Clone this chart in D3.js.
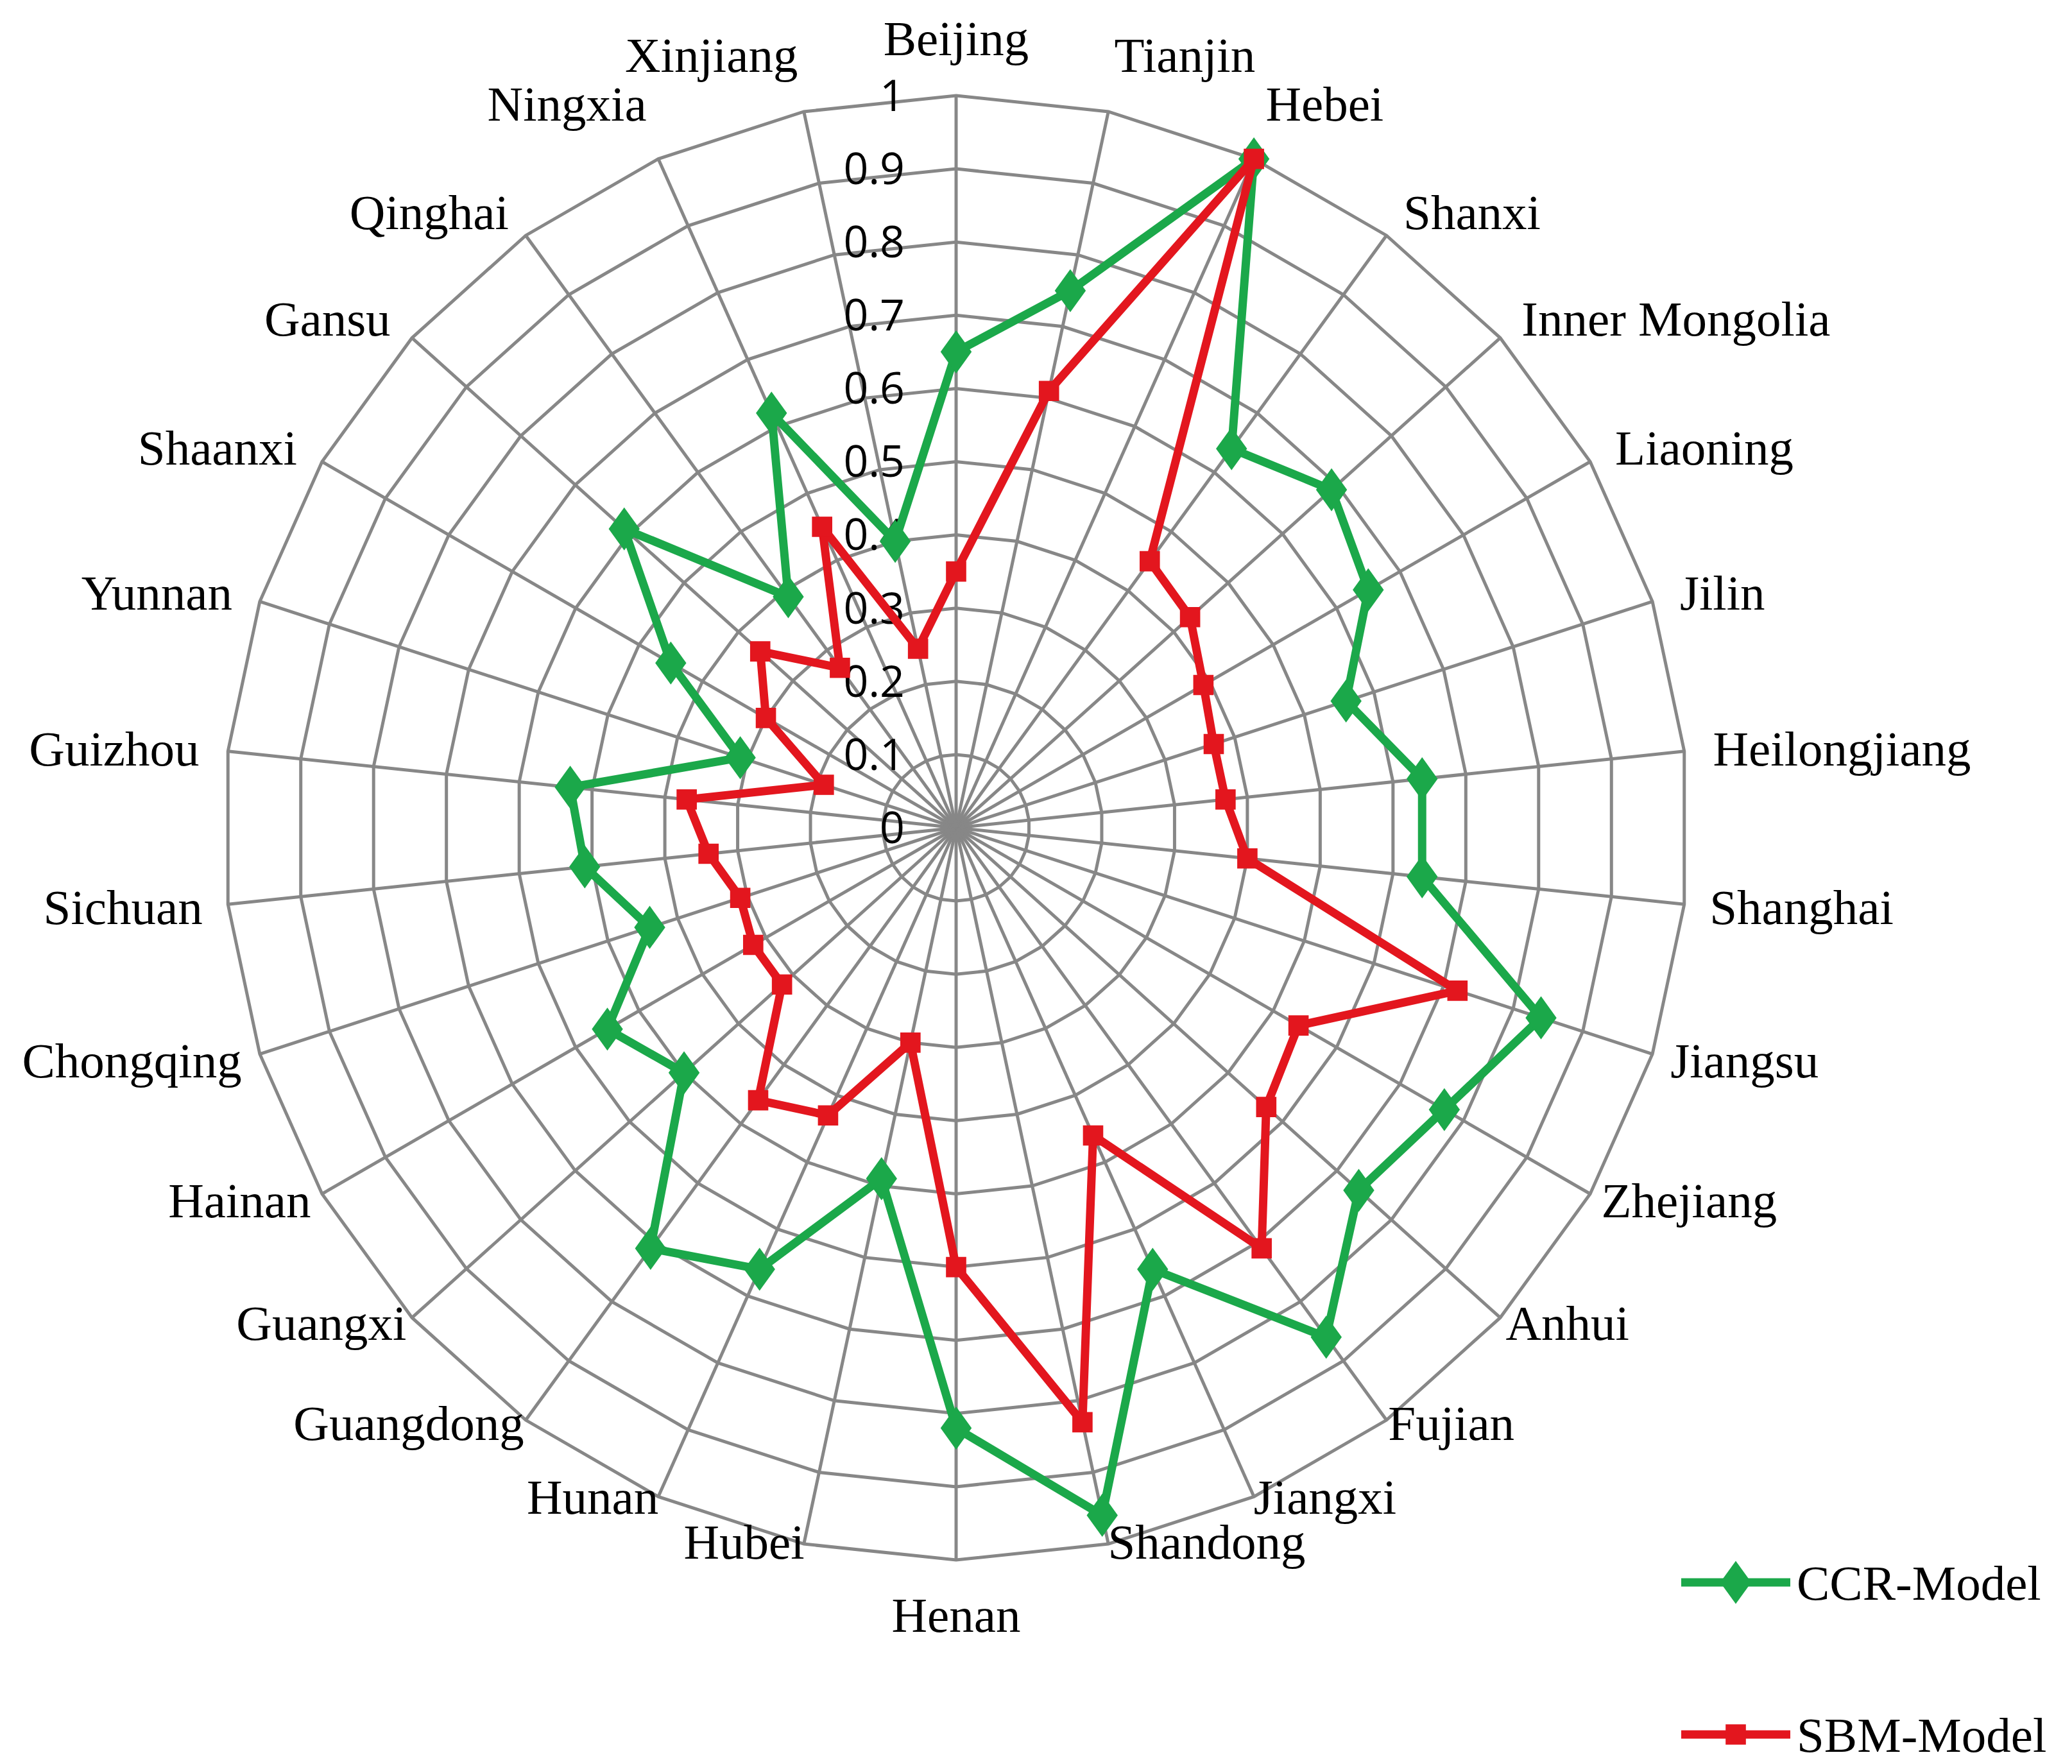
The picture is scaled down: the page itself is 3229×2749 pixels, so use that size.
<!DOCTYPE html>
<html><head><meta charset="utf-8">
<script src="https://cdn.jsdelivr.net/npm/d3@7"></script>
<style>body{margin:0;background:#fff}</style>
</head><body>
<svg id="c" width="3229" height="2749"></svg>
<script>
const categories=["Beijing","Tianjin","Hebei","Shanxi","Inner Mongolia","Liaoning","Jilin","Heilongjiang","Shanghai","Jiangsu","Zhejiang","Anhui","Fujian","Jiangxi","Shandong","Henan","Hubei","Hunan","Guangdong","Guangxi","Hainan","Chongqing","Sichuan","Guizhou","Yunnan","Shaanxi","Gansu","Qinghai","Ningxia","Xinjiang"];
const ccr=[0.65,0.75,1.0,0.64,0.69,0.65,0.56,0.64,0.64,0.84,0.77,0.74,0.86,0.66,0.96,0.82,0.49,0.66,0.71,0.50,0.55,0.44,0.51,0.53,0.31,0.45,0.61,0.39,0.62,0.40];
const sbm=[0.35,0.61,1.0,0.45,0.43,0.39,0.37,0.37,0.40,0.72,0.54,0.57,0.71,0.46,0.83,0.60,0.30,0.43,0.46,0.32,0.32,0.31,0.34,0.37,0.19,0.30,0.36,0.27,0.45,0.25];
const ticks=[0,0.1,0.2,0.3,0.4,0.5,0.6,0.7,0.8,0.9,1];
const seriesNames=["CCR-Model","SBM-Model"];
const colors=["#1BA84A","#E3161E"];

const svg=d3.select("#c");
const cx=1490,cy=1290,R=1141;
const r=d3.scaleLinear().domain([0,1]).range([0,R]);
const ang=d3.scaleLinear().domain([0,categories.length]).range([0,2*Math.PI]);
const pt=(i,v)=>[cx+r(v)*Math.sin(ang(i)),cy-r(v)*Math.cos(ang(i))];
const g=svg.append("g");
ticks.slice(1).forEach(t=>{
  g.append("path").attr("d",d3.line()(categories.map((c,i)=>pt(i,t)))+"Z")
   .attr("fill","none").attr("stroke","#878787").attr("stroke-width",5);
});
categories.forEach((c,i)=>{
  g.append("line").attr("x1",cx).attr("y1",cy).attr("x2",pt(i,1)[0]).attr("y2",pt(i,1)[1])
   .attr("stroke","#878787").attr("stroke-width",5);
});
ticks.forEach(t=>{
  svg.append("text").attr("x",cx-80).attr("y",cy-r(t)).attr("dy","0.35em")
   .attr("text-anchor","end").attr("font-family","Open Sans, sans-serif").attr("font-size",68).text(String(t));
});
categories.forEach((c,i)=>{
  const a=ang(i),s=Math.sin(a),co=Math.cos(a);
  let rr=R+45; if(co<0) rr+=co*50;
  const x=cx+rr*s,y=cy-rr*co;
  const anchor=s>0.15?"start":(s<-0.15?"end":"middle");
  svg.append("text").attr("x",x).attr("y",y+(co>0.9?-45:(co<-0.99?90:0))).attr("dy","0.35em")
   .attr("text-anchor",anchor).attr("font-family","Liberation Serif, serif").attr("font-size",77).text(c);
});
[ccr,sbm].forEach((d,k)=>{
  svg.append("path").attr("d",d3.line()(d.map((v,i)=>pt(i,v)))+"Z")
   .attr("fill","none").attr("stroke",colors[k]).attr("stroke-width",13).attr("stroke-linejoin","round");
  const sym=d3.symbol().type(k==0?d3.symbolDiamond:d3.symbolSquare).size(k==0?1300:1000);
  d.forEach((v,i)=>{const p=pt(i,v);
    svg.append("path").attr("d",sym()).attr("transform",`translate(${p[0]},${p[1]}) scale(${k==0?1.25:1},1)`).attr("fill",colors[k]);});
});
seriesNames.forEach((n,k)=>{
  const y=2466+k*237;
  svg.append("line").attr("x1",2620).attr("x2",2790).attr("y1",y).attr("y2",y).attr("stroke",colors[k]).attr("stroke-width",13);
  const sym=d3.symbol().type(k==0?d3.symbolDiamond:d3.symbolSquare).size(k==0?1300:1000);
  svg.append("path").attr("d",sym()).attr("transform",`translate(2705,${y}) scale(${k==0?1.25:1},1)`).attr("fill",colors[k]);
  svg.append("text").attr("x",2800).attr("y",y).attr("dy","0.35em").attr("font-family","Liberation Serif, serif").attr("font-size",77).text(n);
});
</script>
</body></html>
